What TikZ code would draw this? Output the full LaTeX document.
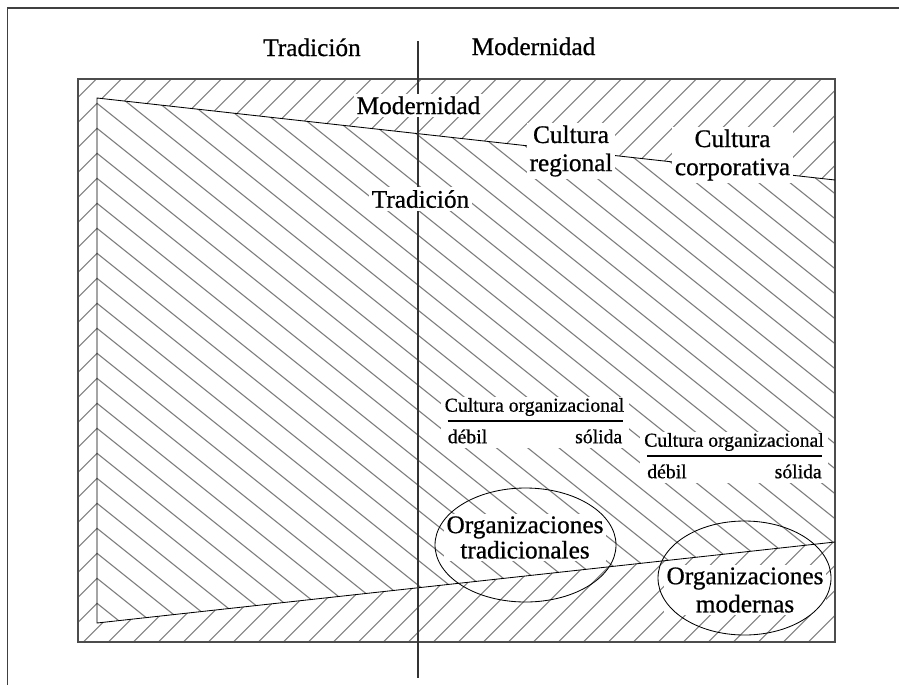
\documentclass[tikz,border=0pt]{standalone}
\usepackage{fontspec}
\setmainfont{Liberation Serif}[FakeBold=0.7]
\begin{document}
\begin{tikzpicture}[x=0.025cm, y=-0.025cm,
    etiqueta/.style={fill=white, inner sep=2pt, align=center, font=\fontsize{18}{20}\selectfont},
    escala/.style={inner sep=0pt, font=\fontsize{14}{16}\selectfont},
    rayado/.style={black!50, line width=0.8pt},
    borde/.style={black, line width=0.6pt}]
  \useasboundingbox (0,0) rectangle (899,685);

  % Outer frame, open at the right and at the bottom
  \draw[black!75, line width=0.8pt] (7.5,685) -- (7.5,8) -- (899,8);

  % Modernity: hatching over the whole field
  \begin{scope}
    \clip (78,79) rectangle (835,642);
    \foreach \k in {-8,...,45} {
      \draw[rayado] (60,{350.3+25*\k-60}) -- (860,{350.3+25*\k-860});
    }
  \end{scope}

  % Tradition: wedge with the other hatching
  \fill[white] (97,98) -- (835,180) -- (835,542) -- (97,623) -- cycle;
  \begin{scope}
    \clip (97,98) -- (835,180) -- (835,542) -- (97,623) -- cycle;
    \foreach \k in {-27,...,15} {
      \draw[rayado] (97,{253.3+25*\k}) -- (835,{253.3+25*\k+590.4});
    }
  \end{scope}

  \draw[black!70, line width=1pt] (78,79) rectangle (835,642);
  \draw[borde] (835,180) -- (97,98) -- (97,623) -- (835,542);

  % Divider between the two columns
  \draw[black!80, line width=0.8pt] (418,41) -- (418,678);

  % Labels
  \node[etiqueta, fill=none, anchor=base] (tradTop) at (312,56) {Tradición};
  \node[etiqueta, fill=none, anchor=base] (modTop) at (533.5,55) {Modernidad};
  \node[etiqueta, anchor=base] (modIn) at (418.5,114) {Modernidad};
  \node[etiqueta, anchor=base] (tradIn) at (420.5,207.7) {Tradición};
  \node[etiqueta] (regional) at (571,151) {Cultura\\regional};
  \node[etiqueta] (corporativa) at (732.5,155) {Cultura\\corporativa};
  \node[etiqueta, font=\fontsize{18}{18}\selectfont] (orgTrad) at (525,537.5) {Organizaciones\\tradicionales};
  \node[etiqueta] (orgMod) at (745,590) {Organizaciones\\modernas};

  % Scales of organizational culture
  \foreach \bx/\by/\n in {534.5/411.7/1, 734/446.7/2} {
    \fill[white] (\bx-94,\by-15) rectangle (\bx+94,\by+36);
    \node[escala, anchor=base] (cult\n) at (\bx,\by) {Cultura organizacional};
    \draw[line width=1.5pt] (\bx-87,\by+9.5) -- (\bx+88,\by+9.5);
    \node[escala, anchor=base west] (debil\n) at (\bx-87,\by+31.5) {débil};
    \node[escala, anchor=base east] (solida\n) at (\bx+88,\by+31.5) {sólida};
  }

  % Ellipses round the two kinds of organization
  \draw[borde] (525.5,545) ellipse [x radius=90.5, y radius=57];
  \draw[borde] (744.5,578) ellipse [x radius=86.5, y radius=57];
\end{tikzpicture}
\end{document}
